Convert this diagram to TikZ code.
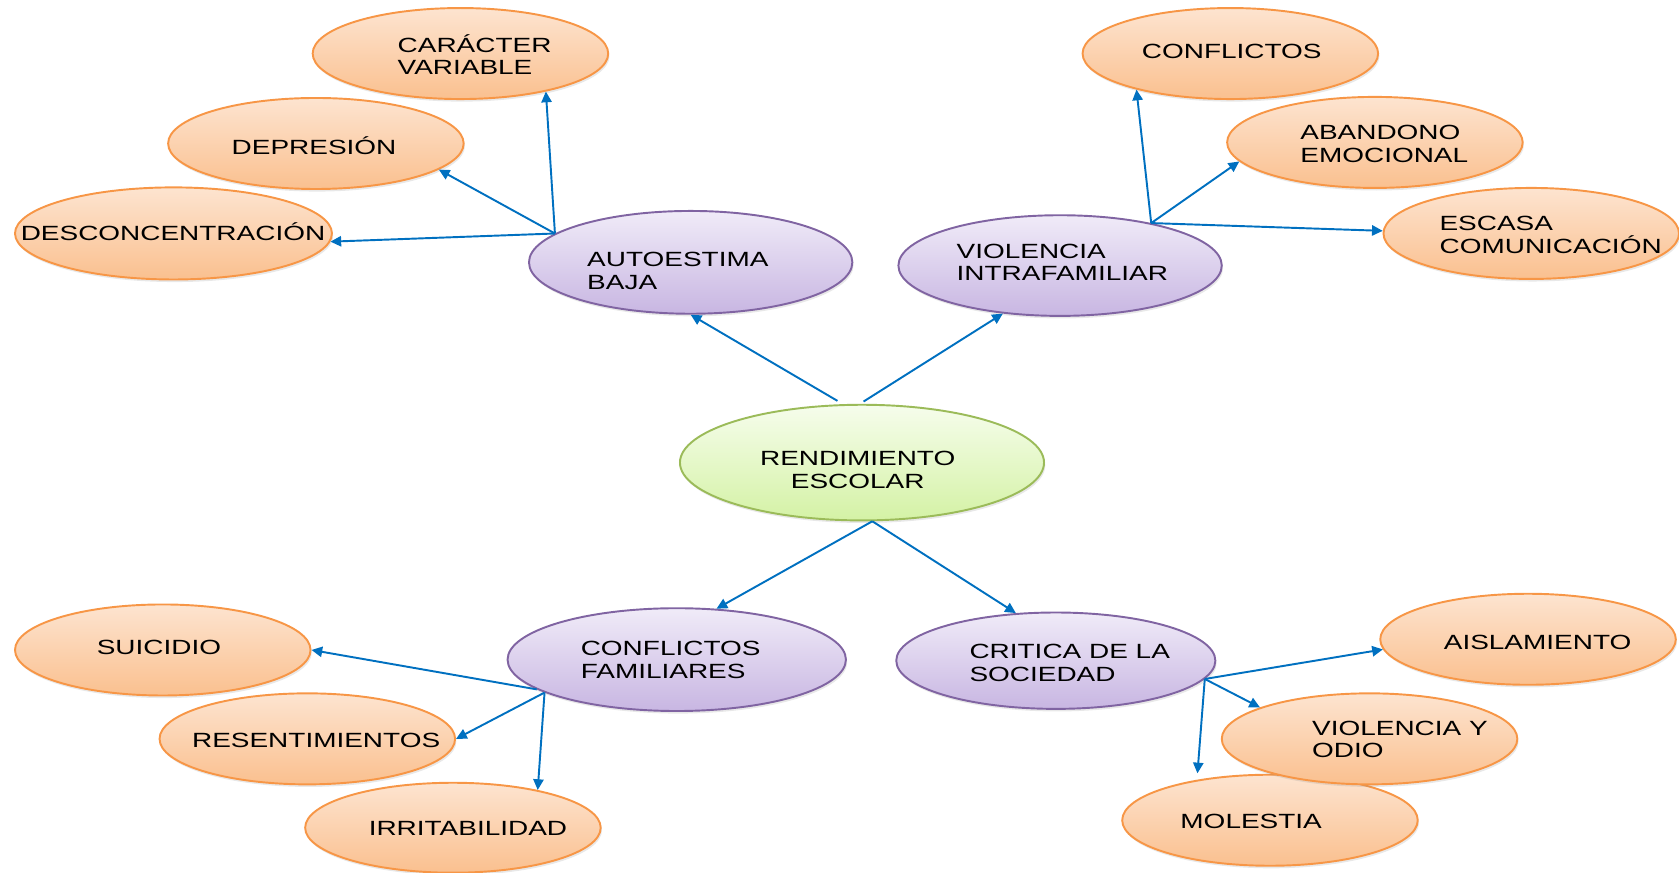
\documentclass[tikz,border=0pt]{standalone}
\usepackage{fontspec}
\setmainfont{Liberation Sans}[FakeStretch=1.36]
\usetikzlibrary{shapes.geometric,arrows.meta,shadows}
\definecolor{orgD}{RGB}{247,150,70}
\definecolor{orgT}{RGB}{253,228,208}
\definecolor{orgL}{RGB}{250,192,143}
\definecolor{purD}{RGB}{128,100,162}
\definecolor{purT}{RGB}{240,235,248}
\definecolor{purL}{RGB}{200,182,226}
\definecolor{grnD}{RGB}{155,187,89}
\definecolor{grnT}{RGB}{246,253,236}
\definecolor{grnL}{RGB}{212,242,165}
\definecolor{arrC}{RGB}{0,112,192}
\tikzset{
  oval/.style={ellipse, line width=0.9pt, inner sep=0pt,
    drop shadow={opacity=0.18, shadow xshift=0.6pt, shadow yshift=-1.2pt}},
  orgO/.style={oval, draw=orgD, top color=orgT, bottom color=orgL,
    minimum width=138pt, minimum height=42.5pt},
  purO/.style={oval, draw=purD, top color=purT, bottom color=purL},
  grnO/.style={oval, draw=grnD, top color=grnT, bottom color=grnL},
  lbl/.style={font=\fontsize{9.6}{10.6}\selectfont, align=left, inner sep=0pt, anchor=west, text=black},
  arr/.style={draw=arrC, line width=0.9pt, -{Triangle[length=5pt,width=4.8pt]}}
}
\begin{document}
\begin{tikzpicture}[x=0.5pt,y=-0.5pt]
\useasboundingbox (0,0) rectangle (1568,815);
% top-left group
\node[orgO] (car) at (430,50) {};
\node[lbl] (carT) at (371,51) {CARÁCTER\\VARIABLE};
\node[orgO] (dep) at (295,134) {};
\node[lbl] (depT) at (216,136) {DEPRESIÓN};
\node[orgO, minimum width=148pt, minimum height=43pt] (des) at (162,218) {};
\node[lbl] (desT) at (19,216) {DESCONCENTRACIÓN};
% top-right group
\node[orgO] (con) at (1149,50) {};
\node[lbl] (conT) at (1066,48) {CONFLICTOS};
\node[orgO] (aba) at (1284,133) {};
\node[lbl] (abaT) at (1214,134.5) {ABANDONO\\EMOCIONAL};
\node[orgO] (esc) at (1430,218) {};
\node[lbl] (escT) at (1344,219.5) {ESCASA\\COMUNICACIÓN};
% purple level
\node[purO, minimum width=151pt, minimum height=48pt] (ae) at (645,245) {};
\node[lbl] (aeT) at (548,253) {AUTOESTIMA\\BAJA};
\node[purO, minimum width=151pt, minimum height=47pt] (vi) at (990,248) {};
\node[lbl] (viT) at (893,245) {VIOLENCIA\\INTRAFAMILIAR};
% centre
\node[grnO, minimum width=170pt, minimum height=54pt] (ren) at (805,432) {};
\node[lbl, anchor=center, align=center] (renT) at (801,439) {RENDIMIENTO\\ESCOLAR};
% bottom purple
\node[purO, minimum width=158pt, minimum height=48pt] (cf) at (632,616) {};
\node[lbl] (cfT) at (542,616.5) {CONFLICTOS\\FAMILIARES};
\node[purO, minimum width=149pt, minimum height=45pt] (cs) at (986,617) {};
\node[lbl] (csT) at (905,619) {CRITICA DE LA\\SOCIEDAD};
% bottom-left group
\node[orgO] (sui) at (152,607) {};
\node[lbl] (suiT) at (90,605) {SUICIDIO};
\node[orgO] (res) at (287,690) {};
\node[lbl] (resT) at (179,691) {RESENTIMIENTOS};
\node[orgO, minimum height=42pt] (irr) at (423,773) {};
\node[lbl] (irrT) at (344,774) {IRRITABILIDAD};
% bottom-right group
\node[orgO] (ais) at (1427,597) {};
\node[lbl] (aisT) at (1348,600) {AISLAMIENTO};
\node[orgO] (mol) at (1186,766) {};
\node[lbl] (molT) at (1102,767) {MOLESTIA};
\node[orgO] (vyo) at (1279,690) {};
\node[lbl] (vyoT) at (1225,690.5) {VIOLENCIA Y\\ODIO};
% connectors
\draw[arr] (ae.168) -- (car.-24);
\draw[arr] (ae.168) -- (dep.-12);
\draw[arr] (ae.168) -- (des.-3);
\draw[arr] (vi.25) -- (con.-159);
\draw[arr] (vi.25) -- (aba.-172);
\draw[arr] (vi.25) -- (esc.179);
\draw[arr, shorten <=3pt] (ren.108) -- (ae.-90);
\draw[arr, shorten <=2pt] (ren.92) -- (vi.-140);
\draw[arr] (ren.-80) -- (cf.52);
\draw[arr] (ren.-80) -- (cs.130);
\draw[arr] (cf.-168) -- (sui.0);
\draw[arr] (cf.-166) -- (res.0);
\draw[arr] (cf.-166) -- (irr.24);
\draw[arr] (cs.-7) -- (ais.184);
\draw[arr] (cs.-7) -- (vyo.164);
\draw[arr, shorten >=3pt] (cs.-7) -- (mol.151);
\end{tikzpicture}
\end{document}
